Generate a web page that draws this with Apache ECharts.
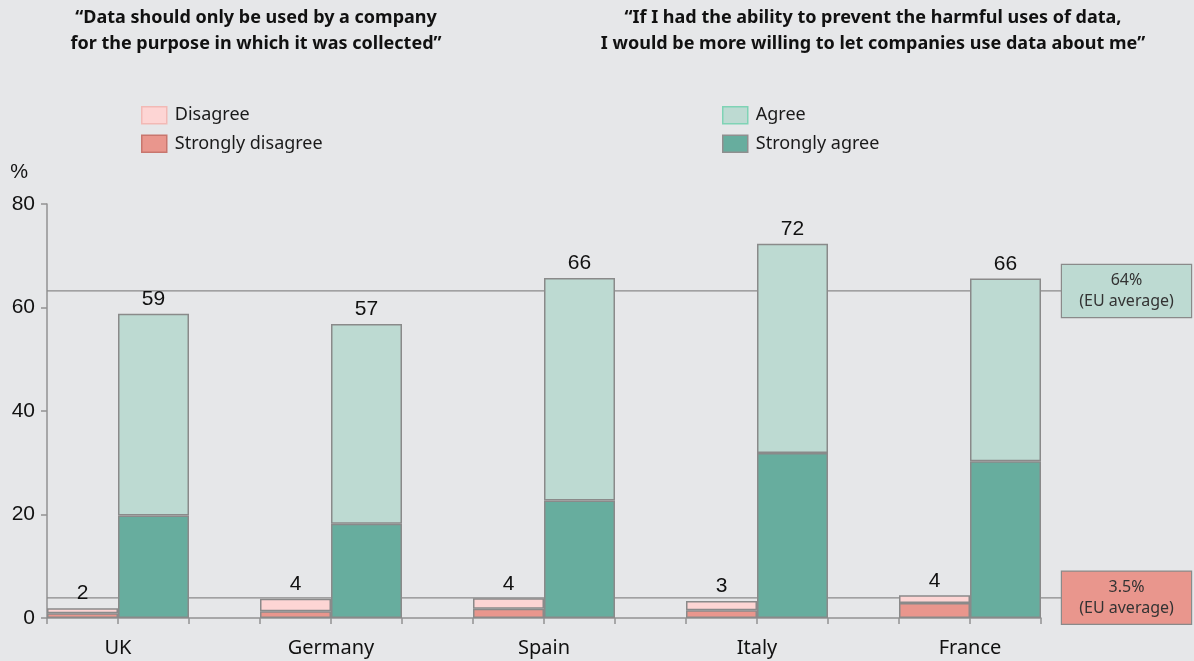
<!DOCTYPE html>
<html>
<head>
<meta charset="utf-8">
<script src="https://cdn.jsdelivr.net/npm/echarts@6/dist/echarts.min.js"></script>
<style>
html,body{margin:0;padding:0;background:#e6e7e9;}
#chart{width:1194px;height:661px;}
</style>
</head>
<body>
<div id="chart"></div>
<script>
const categories = ['UK', 'Germany', 'Spain', 'Italy', 'France'];
const stronglyDisagree = [0.9, 1.3, 1.8, 1.5, 2.9];
const disagree = [1.0, 2.4, 2.0, 1.8, 1.5];
const stronglyAgree = [19.8, 18.2, 22.7, 31.9, 30.3];
const agree = [39.0, 38.6, 43.0, 40.4, 35.3];
const disagreeLabels = [2, 4, 4, 3, 4];
const agreeLabels = [59, 57, 66, 72, 66];
const euAverageLevels = [63.2, 3.9];
const euAverageTexts = ['64%', '3.5%'];
const euAverageColors = ['#bddad2', '#e9968d'];
const yMin = 0, yMax = 80, yInterval = 20;

// 14 slots: disagree, agree, gap for each country (no trailing gap)
const slotCount = categories.length * 3 - 1;
const slots = Array.from({length: slotCount}, (_, i) => 's' + i);
function toSlots(values, offset) {
  const arr = new Array(slotCount).fill('-');
  values.forEach((v, i) => { arr[i * 3 + offset] = v; });
  return arr;
}

const numFont = '"Liberation Sans", Arial, sans-serif';
const textFont = '"Noto Sans", sans-serif';
const border = {borderColor: '#8a8a8a', borderWidth: 1.5};

const chart = echarts.init(document.getElementById('chart'), null, {renderer: 'canvas'});
const gridBox = {top: 204, bottom: 43};

const option = {
  backgroundColor: '#e6e7e9',
  animation: false,
  title: [
    {
      text: '“Data should only be used by a company\nfor the purpose in which it was collected”',
      left: 256, top: 5, padding: 0, textAlign: 'center',
      textStyle: {fontFamily: textFont, fontSize: 18, fontWeight: 'bold', color: '#111', lineHeight: 26}
    },
    {
      text: '“If I had the ability to prevent the harmful uses of data,\nI would be more willing to let companies use data about me”',
      left: 873, top: 5, padding: 0, textAlign: 'center',
      textStyle: {fontFamily: textFont, fontSize: 18, fontWeight: 'bold', color: '#111', lineHeight: 26}
    }
  ],
  legend: [
    {
      orient: 'vertical', left: 141, top: 106, padding: 0, itemGap: 10,
      itemWidth: 25, itemHeight: 17, icon: 'rect',
      textStyle: {fontFamily: textFont, fontSize: 18, color: '#1a1a1a', padding: [0, 0, 0, 3]},
      data: [
        {name: 'Disagree', itemStyle: {borderColor: '#f2b9b5', borderWidth: 1.5}},
        {name: 'Strongly disagree', itemStyle: {borderColor: '#c8766e', borderWidth: 1.5}}
      ]
    },
    {
      orient: 'vertical', left: 722, top: 106, padding: 0, itemGap: 10,
      itemWidth: 25, itemHeight: 17, icon: 'rect',
      textStyle: {fontFamily: textFont, fontSize: 18, color: '#1a1a1a', padding: [0, 0, 0, 3]},
      data: [
        {name: 'Agree', itemStyle: {borderColor: '#7fd3b5', borderWidth: 1.5}},
        {name: 'Strongly agree', itemStyle: {borderColor: '#8f8f8f', borderWidth: 1.5}}
      ]
    }
  ],
  grid: [
    Object.assign({left: 47, right: 153}, gridBox),
    Object.assign({left: 11.5, right: 117.5}, gridBox),
    Object.assign({left: 47, right: 132}, gridBox)
  ],
  xAxis: [
    {
      gridIndex: 0, type: 'category', data: slots, boundaryGap: true,
      axisLine: {lineStyle: {color: '#929292', width: 1.5}},
      axisTick: {show: true, interval: 0, length: 6, lineStyle: {color: '#929292', width: 1.5}},
      axisLabel: {show: false}
    },
    {
      gridIndex: 1, type: 'category', data: categories, boundaryGap: true,
      axisLine: {show: false}, axisTick: {show: false},
      axisLabel: {margin: 20, fontFamily: textFont, fontSize: 20, color: '#111'}
    },
    {gridIndex: 2, type: 'value', min: 0, max: 1, show: false}
  ],
  yAxis: [
    {
      gridIndex: 0, type: 'value', min: yMin, max: yMax, interval: yInterval,
      name: '%', nameLocation: 'end', nameGap: 22,
      nameTextStyle: {fontFamily: numFont, fontSize: 20, color: '#111', align: 'right', padding: [0, 19, 0, 0]},
      axisLine: {show: true, lineStyle: {color: '#929292', width: 1.5}},
      axisTick: {show: true, length: 6, lineStyle: {color: '#929292', width: 1.5}},
      axisLabel: {margin: 12, fontFamily: numFont, fontSize: 21, color: '#111'},
      splitLine: {show: false}
    },
    {gridIndex: 1, type: 'value', min: yMin, max: yMax, show: false},
    {gridIndex: 2, type: 'value', min: yMin, max: yMax, show: false}
  ],
  series: [
    {
      name: 'Strongly disagree', type: 'bar', stack: 'all', barCategoryGap: '0%',
      xAxisIndex: 0, yAxisIndex: 0, z: 3,
      itemStyle: Object.assign({color: '#e9968d'}, border),
      data: toSlots(stronglyDisagree, 0)
    },
    {
      name: 'Disagree', type: 'bar', stack: 'all', barCategoryGap: '0%',
      xAxisIndex: 0, yAxisIndex: 0, z: 3,
      itemStyle: Object.assign({color: '#fdd5d4'}, border),
      label: {
        show: true, position: 'top', distance: 4,
        fontFamily: numFont, fontSize: 21, color: '#111',
        formatter: p => String(disagreeLabels[Math.floor(p.dataIndex / 3)])
      },
      data: toSlots(disagree, 0)
    },
    {
      name: 'Strongly agree', type: 'bar', stack: 'all', barCategoryGap: '0%',
      xAxisIndex: 0, yAxisIndex: 0, z: 3,
      itemStyle: Object.assign({color: '#67ad9e'}, border),
      data: toSlots(stronglyAgree, 1)
    },
    {
      name: 'Agree', type: 'bar', stack: 'all', barCategoryGap: '0%',
      xAxisIndex: 0, yAxisIndex: 0, z: 3,
      itemStyle: Object.assign({color: '#bddad2'}, border),
      label: {
        show: true, position: 'top', distance: 4,
        fontFamily: numFont, fontSize: 21, color: '#111',
        formatter: p => String(agreeLabels[Math.floor(p.dataIndex / 3)])
      },
      data: toSlots(agree, 1)
    }
  ].concat(euAverageLevels.map((lvl, i) => ({
    name: 'EU average ' + euAverageTexts[i], type: 'line',
    xAxisIndex: 2, yAxisIndex: 2, z: 1,
    symbol: 'none', showSymbol: false, silent: true,
    lineStyle: {color: '#8a8a8a', width: 1.2},
    endLabel: {
      show: true, distance: 0,
      formatter: '{a|' + euAverageTexts[i] + '}\n{a|(EU average)}',
      backgroundColor: euAverageColors[i], borderColor: '#8a8a8a', borderWidth: 1.2,
      padding: [5, 0, 5, 0],
      rich: {a: {width: 129, align: 'center', fontFamily: textFont, fontSize: 16, color: '#333', lineHeight: 21}}
    },
    data: [[0, lvl], [1, lvl]]
  })))
};
chart.setOption(option);
</script>
</body>
</html>
